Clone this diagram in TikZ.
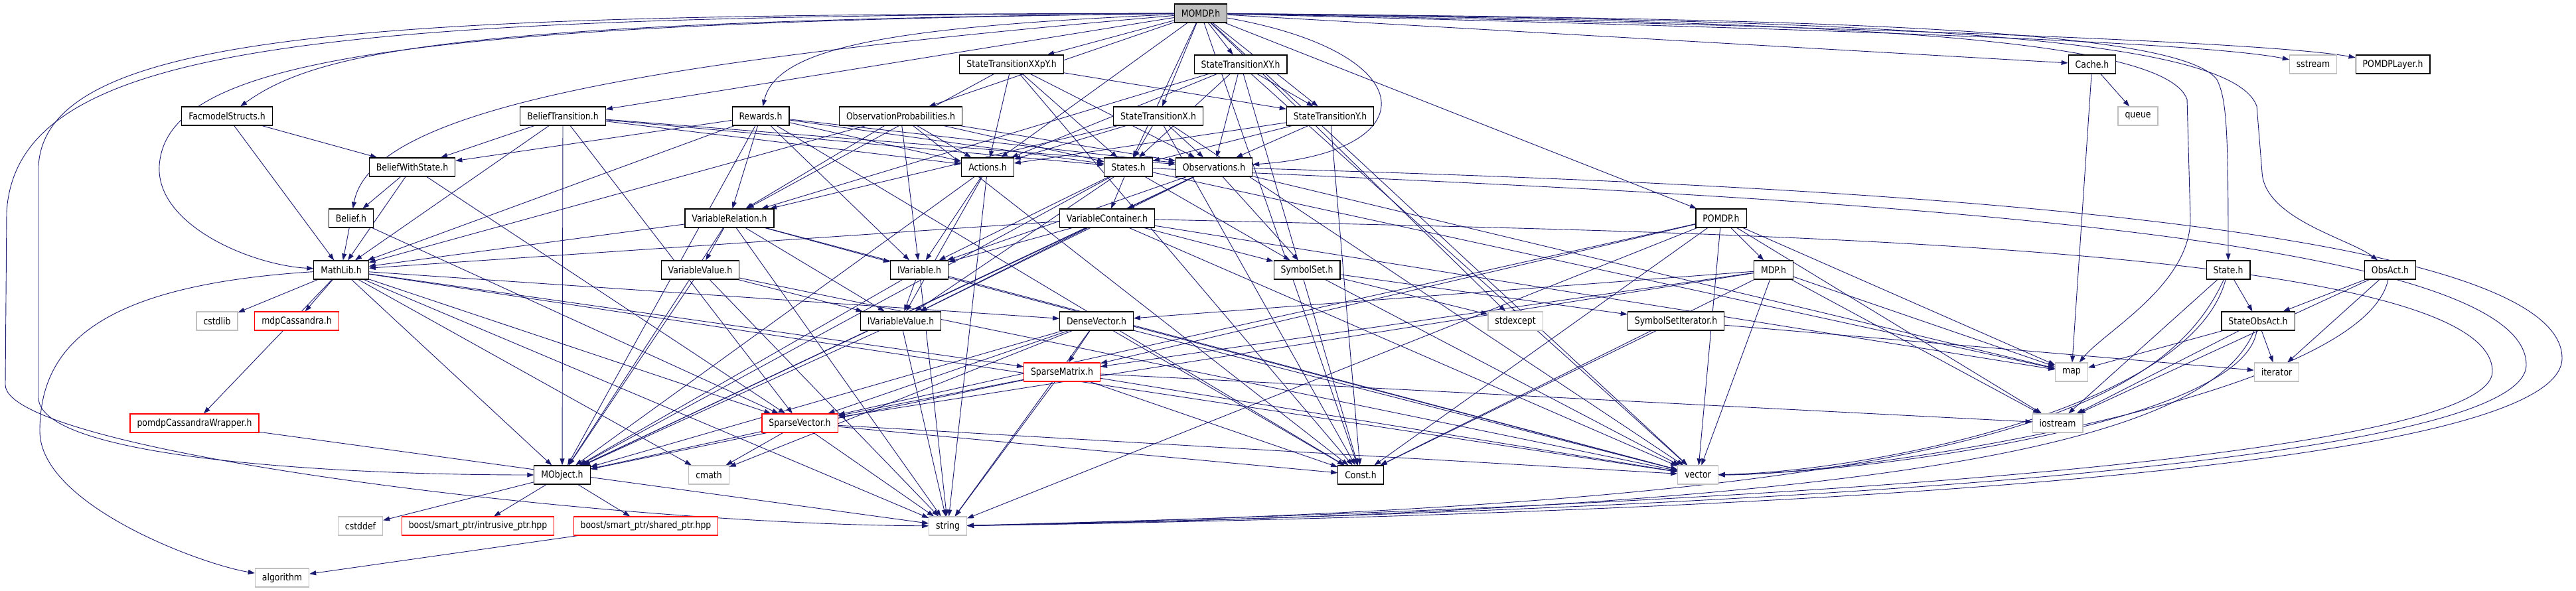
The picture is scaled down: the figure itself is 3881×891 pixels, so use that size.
\documentclass[tikz,border=0pt]{standalone}
\usepackage{fontspec}
\setmainfont{DejaVu Sans}[FakeStretch=0.86]
\usepackage{tikz}
\usetikzlibrary{arrows.meta,backgrounds}
\definecolor{mEdge}{RGB}{25,25,112}
\definecolor{mShade}{RGB}{191,191,191}
\tikzset{
  hdrbox/.style={draw=black, fill=white, line width=1.2pt, minimum height=28pt,
    inner xsep=10.5pt, inner ysep=2pt, font=\fontsize{14.5}{17}\selectfont},
  rootbox/.style={hdrbox, fill=mShade},
  sysbox/.style={hdrbox, draw=mShade},
  cutbox/.style={hdrbox, draw=red},
  incln/.style={-{Triangle[length=10pt,width=7pt]}, draw=mEdge, line width=0.9pt},
}

\begin{document}
\begin{tikzpicture}[x=1pt,y=1pt]
    \useasboundingbox (0,0) rectangle (3881,-891);
    % --- row 1 and 2 ---
    \node[rootbox] (momdp) at (1809,-20) {MOMDP.h};
    \node[hdrbox] (stxxpy) at (1524,-97) {StateTransitionXXpY.h};
    \node[hdrbox] (stxy) at (1869,-97) {StateTransitionXY.h};
    \node[hdrbox] (cache) at (3152,-97) {Cache.h};
    \node[sysbox] (sstream) at (3485,-97) {sstream};
    \node[hdrbox] (pomdplayer) at (3605,-97) {POMDPLayer.h};
    % --- row 3 ---
    \node[hdrbox] (facmodel) at (342,-175) {FacmodelStructs.h};
    \node[hdrbox] (belieftrans) at (848,-175) {BeliefTransition.h};
    \node[hdrbox] (rewards) at (1146,-175) {Rewards.h};
    \node[hdrbox] (obsprob) at (1357,-175) {ObservationProbabilities.h};
    \node[hdrbox] (stx) at (1745,-175) {StateTransitionX.h};
    \node[hdrbox] (sty) at (2004,-175) {StateTransitionY.h};
    \node[sysbox] (queue) at (3221,-175) {queue};
    % --- row 4 ---
    \node[hdrbox] (bws) at (621,-252) {BeliefWithState.h};
    \node[hdrbox] (actions) at (1488,-252) {Actions.h};
    \node[hdrbox] (states) at (1700,-252) {States.h};
    \node[hdrbox] (observations) at (1829,-252) {Observations.h};
    % --- row 5 ---
    \node[hdrbox] (belief) at (529,-329) {Belief.h};
    \node[hdrbox] (varrel) at (1099,-329) {VariableRelation.h};
    \node[hdrbox] (varcont) at (1668,-329) {VariableContainer.h};
    \node[hdrbox] (pomdp) at (2593,-329) {POMDP.h};
    % --- row 6 ---
    \node[hdrbox] (mathlib) at (514,-407) {MathLib.h};
    \node[hdrbox] (varval) at (1055,-407) {VariableValue.h};
    \node[hdrbox] (ivar) at (1385,-407) {IVariable.h};
    \node[hdrbox] (symset) at (1969,-407) {SymbolSet.h};
    \node[hdrbox] (mdp) at (2672,-407) {MDP.h};
    \node[hdrbox] (state) at (3357,-407) {State.h};
    \node[hdrbox] (obsact) at (3601,-407) {ObsAct.h};
    % --- row 7 ---
    \node[sysbox] (cstdlib) at (327,-484) {cstdlib};
    \node[cutbox] (mdpcass) at (447,-484) {mdpCassandra.h};
    \node[hdrbox] (ivarval) at (1357,-484) {IVariableValue.h};
    \node[hdrbox] (densevec) at (1652,-484) {DenseVector.h};
    \node[sysbox] (stdexcept) at (2283,-484) {stdexcept};
    \node[hdrbox] (symsetit) at (2525,-484) {SymbolSetIterator.h};
    \node[hdrbox] (stateobsact) at (3402,-484) {StateObsAct.h};
    % --- row 8 and 9 ---
    \node[cutbox] (sparsemat) at (1600,-561) {SparseMatrix.h};
    \node[sysbox] (map) at (3121,-561) {map};
    \node[sysbox] (iterator) at (3430,-561) {iterator};
    \node[cutbox] (pcwrapper) at (293,-638) {pomdpCassandraWrapper.h};
    \node[cutbox] (sparsevec) at (1205,-638) {SparseVector.h};
    \node[sysbox] (iostream) at (3100,-638) {iostream};
    % --- bottom rows ---
    \node[hdrbox] (mobject) at (847,-716) {MObject.h};
    \node[sysbox] (cmath) at (1068,-716) {cmath};
    \node[hdrbox] (const) at (2050,-716) {Const.h};
    \node[sysbox] (vector) at (2558,-716) {vector};
    \node[sysbox] (cstddef) at (543,-793) {cstddef};
    \node[cutbox] (intrusive) at (720,-793) {boost/smart\_ptr/intrusive\_ptr.hpp};
    \node[cutbox] (shared) at (973,-793) {boost/smart\_ptr/shared\_ptr.hpp};
    \node[sysbox] (string) at (1428,-793) {string};
    \node[sysbox] (algorithm) at (425,-871) {algorithm};

    \begin{scope}[on background layer]
      % --- includes of MOMDP.h ---
      \foreach \t in {stxxpy,stxy,stx,sty,obsprob,belieftrans,actions,states,cache,pomdp,const,vector,stdexcept}
        \draw[incln] (momdp) -- (\t);
      \draw[incln] (momdp) .. controls (700,-32) and (480,-75) .. (facmodel);
      \draw[incln] (momdp) .. controls (1350,-40) and (1170,-70) .. (rewards);
      \draw[incln] (momdp) .. controls (1000,-90) and (560,-160) .. (belief);
      \draw[incln] (momdp) .. controls (600,-35) and (250,-90) .. (240,-250)
        .. controls (235,-340) and (380,-400) .. (mathlib);
      \draw[incln] (momdp) .. controls (500,-25) and (25,-60) .. (10,-320) -- (8,-580)
        .. controls (8,-680) and (900,-790) .. (string);
      \draw[incln] (momdp) .. controls (600,-22) and (70,-40) .. (58,-250) -- (58,-600)
        .. controls (60,-690) and (500,-716) .. (mobject);
      \draw[incln] (momdp) .. controls (2150,-80) and (2150,-230) .. (observations);
      \draw[incln] (momdp) .. controls (2700,-28) and (3280,-40) .. (3340,-120)
        .. controls (3355,-150) and (3357,-200) .. (state);
      \draw[incln] (momdp) .. controls (2700,-32) and (3260,-50) .. (3295,-150) -- (3300,-330)
        .. controls (3300,-430) and (3170,-500) .. (map);
      \draw[incln] (momdp) .. controls (2800,-30) and (3360,-50) .. (3400,-160) -- (3408,-260)
        .. controls (3412,-330) and (3540,-360) .. (obsact);
      \draw[incln] (momdp) .. controls (2600,-40) and (3300,-60) .. (sstream);
      \draw[incln] (momdp) .. controls (2600,-35) and (3400,-60) .. (pomdplayer);
      % --- state transitions and model parts ---
      \foreach \t in {actions,states,sty,observations,varrel,const}
        \draw[incln] (stxxpy) -- (\t);
      \foreach \t in {sty,actions,states,observations,varrel,const,vector}
        \draw[incln] (stxy) -- (\t);
      \foreach \t in {actions,states,observations,varrel,const,vector}
        \draw[incln] (stx) -- (\t);
      \foreach \t in {actions,states,observations,const}
        \draw[incln] (sty) -- (\t);
      \foreach \t in {actions,states,observations,varrel,mathlib,ivar,const}
        \draw[incln] (obsprob) -- (\t);
      \foreach \t in {bws,mathlib}
        \draw[incln] (facmodel) -- (\t);
      \foreach \t in {bws,mathlib,mobject,sparsevec,actions,states,observations}
        \draw[incln] (belieftrans) -- (\t);
      \foreach \t in {bws,mathlib,mobject,varrel,ivar,actions,states,observations,const}
        \draw[incln] (rewards) -- (\t);
      \foreach \t in {belief,mathlib,sparsevec}
        \draw[incln] (bws) -- (\t);
      \foreach \t in {mathlib,sparsevec}
        \draw[incln] (belief) -- (\t);
      % --- variables and containers ---
      \foreach \t in {mobject,ivar,ivarval,string}
        \draw[incln] (actions) -- (\t);
      \foreach \t in {mobject,ivar,ivarval,varcont,symset,map}
        \draw[incln] (states) -- (\t);
      \foreach \t in {mobject,ivar,ivarval,varcont,symset,map}
        \draw[incln] (observations) -- (\t);
      \draw[incln] (observations) .. controls (2600,-275) and (3860,-320) .. (3860,-540)
        .. controls (3860,-700) and (2800,-772) .. (string);
      \draw[incln] (states) .. controls (2500,-290) and (3806,-330) .. (3806,-550)
        .. controls (3806,-690) and (2800,-765) .. (string);
      \draw[incln] (varcont) .. controls (2500,-350) and (3755,-360) .. (3755,-560)
        .. controls (3755,-680) and (2800,-758) .. (string);
      \foreach \t in {mathlib,ivar,varval,ivarval,mobject,string,vector}
        \draw[incln] (varrel) -- (\t);
      \foreach \t in {ivar,ivarval,symset,mathlib,mobject,vector,map}
        \draw[incln] (varcont) -- (\t);
      \foreach \t in {ivarval,mobject,string,vector}
        \draw[incln] (varval) -- (\t);
      \foreach \t in {ivarval,mobject,string,vector}
        \draw[incln] (ivar) -- (\t);
      \foreach \t in {mobject,string}
        \draw[incln] (ivarval) -- (\t);
      \foreach \t in {stdexcept,symsetit,vector}
        \draw[incln] (symset) -- (\t);
      \foreach \t in {const,iterator}
        \draw[incln] (symsetit) -- (\t);
      % --- math and models ---
      \foreach \t in {cstdlib,mdpcass,pcwrapper,mobject,densevec,sparsemat,sparsevec,cmath,vector,string}
        \draw[incln] (mathlib) -- (\t);
      \draw[incln] (mathlib) .. controls (150,-430) and (60,-520) .. (60,-650)
        .. controls (60,-760) and (300,-850) .. (algorithm);
      \foreach \t in {mdp,sparsemat,sparsevec,const,vector,string,iostream,map}
        \draw[incln] (pomdp) -- (\t);
      \foreach \t in {densevec,sparsemat,sparsevec,const,iostream,vector,map}
        \draw[incln] (mdp) -- (\t);
      \foreach \t in {sparsemat,sparsevec,mobject,const,vector,string,cmath}
        \draw[incln] (densevec) -- (\t);
      \foreach \t in {sparsevec,mobject,const,vector,string,iostream}
        \draw[incln] (sparsemat) -- (\t);
      \foreach \t in {mobject,const,cmath,vector,string}
        \draw[incln] (sparsevec) -- (\t);
      \draw[incln] (pcwrapper) -- (string);
      \foreach \t in {cstddef,intrusive,shared}
        \draw[incln] (mobject) -- (\t);
      \draw[incln] (shared) -- (algorithm);
      % --- right part ---
      \foreach \t in {queue,map}
        \draw[incln] (cache) -- (\t);
      \foreach \t in {stateobsact,iostream}
        \draw[incln] (state) -- (\t);
      \foreach \t in {stateobsact,iterator,iostream}
        \draw[incln] (obsact) -- (\t);
      \foreach \t in {map,iterator,iostream}
        \draw[incln] (stateobsact) -- (\t);
      \draw[incln] (state) .. controls (3250,-640) and (2900,-760) .. (string);
      \draw[incln] (stateobsact) .. controls (3330,-660) and (2900,-768) .. (string);
      \draw[incln] (state) .. controls (3300,-620) and (2800,-712) .. (vector);
      \draw[incln] (obsact) .. controls (3560,-600) and (2800,-716) .. (vector);
      \draw[incln] (stateobsact) .. controls (3380,-640) and (2800,-714) .. (vector);
    \end{scope}
  \end{tikzpicture}
\end{document}
